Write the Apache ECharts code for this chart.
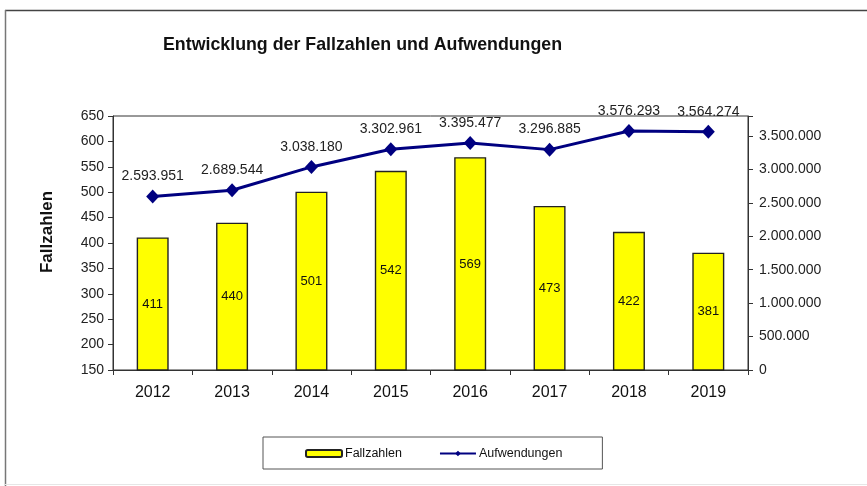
<!DOCTYPE html>
<html>
<head>
<meta charset="utf-8">
<script src="https://cdn.jsdelivr.net/npm/echarts@6/dist/echarts.min.js"></script>
<style>
html,body{margin:0;padding:0;background:#fff;}
#chart{width:867px;height:486px;}
</style>
</head>
<body>
<div id="chart"></div>
<script>
const years = ['2012','2013','2014','2015','2016','2017','2018','2019'];
const fallzahlen = [411, 440, 501, 542, 569, 473, 422, 381];
const aufwendungen = [2593951, 2689544, 3038180, 3302961, 3395477, 3296885, 3576293, 3564274];
const leftTicks = [150, 650, 50];      // min, max, step
const rightTicks = [0, 3800000, 500000]; // min, max, step

function de(n){
  return String(Math.round(n)).replace(/\B(?=(\d{3})+(?!\d))/g, '.');
}

const FONT = '"Liberation Sans", Arial, sans-serif';
const chart = echarts.init(document.getElementById('chart'), null, {renderer:'canvas'});
chart.setOption({
  backgroundColor: '#fff',
  animation: false,
  textStyle: {fontFamily: FONT},
  title: {
    text: 'Entwicklung der Fallzahlen und Aufwendungen',
    left: 163, top: 36, padding: 0,
    textStyle: {fontFamily: FONT, fontSize: 17.8, fontWeight: 'bold', color: '#111'}
  },
  graphic: [
    {type:'line', shape:{x1:5, y1:10.5, x2:867, y2:10.5}, style:{stroke:'#444', lineWidth:1.5}},
    {type:'line', shape:{x1:5.5, y1:10, x2:5.5, y2:486}, style:{stroke:'#777', lineWidth:1.5}},
    {type:'line', shape:{x1:5, y1:484.5, x2:867, y2:484.5}, style:{stroke:'#e6e6e6', lineWidth:1}}
  ],
  legend: {
    left: 263, top: 437,
    padding: [10, 40, 9, 42],
    itemGap: 37,
    itemWidth: 36, itemHeight: 7,
    borderColor: '#555', borderWidth: 1,
    textStyle: {fontFamily: FONT, fontSize: 12.5, color: '#111', padding:[0,0,0,-2]},
    data: ['Fallzahlen', 'Aufwendungen']
  },
  grid: {
    left: 113, right: 119, top: 116, bottom: 116,
    show: true, borderColor: '#333', borderWidth: 1, backgroundColor: 'transparent'
  },
  xAxis: {
    type: 'category',
    data: years,
    boundaryGap: true,
    axisLine: {lineStyle: {color: '#333', width: 1}},
    axisTick: {show: true, alignWithLabel: false, length: 5, lineStyle: {color: '#333'}},
    axisLabel: {fontFamily: FONT, fontSize: 16, color: '#111', margin: 15}
  },
  yAxis: [
    {
      type: 'value',
      min: leftTicks[0], max: leftTicks[1], interval: leftTicks[2],
      name: 'Fallzahlen',
      nameLocation: 'middle', nameRotate: 90, nameGap: 57,
      nameTextStyle: {fontFamily: FONT, fontSize: 17, fontWeight: 'bold', color: '#111', padding: [0, 0, 0, 22]},
      axisLine: {show: true, lineStyle: {color: '#333'}},
      axisTick: {show: true, length: 5, lineStyle: {color: '#333'}},
      axisLabel: {fontFamily: FONT, fontSize: 14, color: '#222', margin: 9},
      splitLine: {show: false}
    },
    {
      type: 'value',
      position: 'right',
      min: rightTicks[0], max: rightTicks[1], interval: rightTicks[2],
      axisLine: {show: true, lineStyle: {color: '#333'}},
      axisTick: {show: true, length: 5, lineStyle: {color: '#333'}},
      axisLabel: {
        fontFamily: FONT, fontSize: 14, color: '#222', margin: 11,
        formatter: v => (v % rightTicks[2] === 0 ? de(v) : '')
      },
      splitLine: {show: false}
    }
  ],
  series: [
    {
      name: 'Fallzahlen',
      type: 'bar',
      yAxisIndex: 0,
      data: fallzahlen,
      barWidth: 32,
      itemStyle: {color: '#ffff00', borderColor: '#222', borderWidth: 1.4},
      label: {show: true, position: 'inside', fontFamily: FONT, fontSize: 13, color: '#111'},
      z: 2
    },
    {
      name: 'Aufwendungen',
      type: 'line',
      yAxisIndex: 1,
      data: aufwendungen,
      symbol: 'diamond',
      symbolSize: [13, 14],
      itemStyle: {color: '#000080'},
      lineStyle: {color: '#000080', width: 3},
      label: {
        show: true, position: 'top', distance: 6,
        fontFamily: FONT, fontSize: 14, color: '#222',
        formatter: p => de(p.value)
      },
      z: 3
    }
  ]
});
</script>
</body>
</html>
